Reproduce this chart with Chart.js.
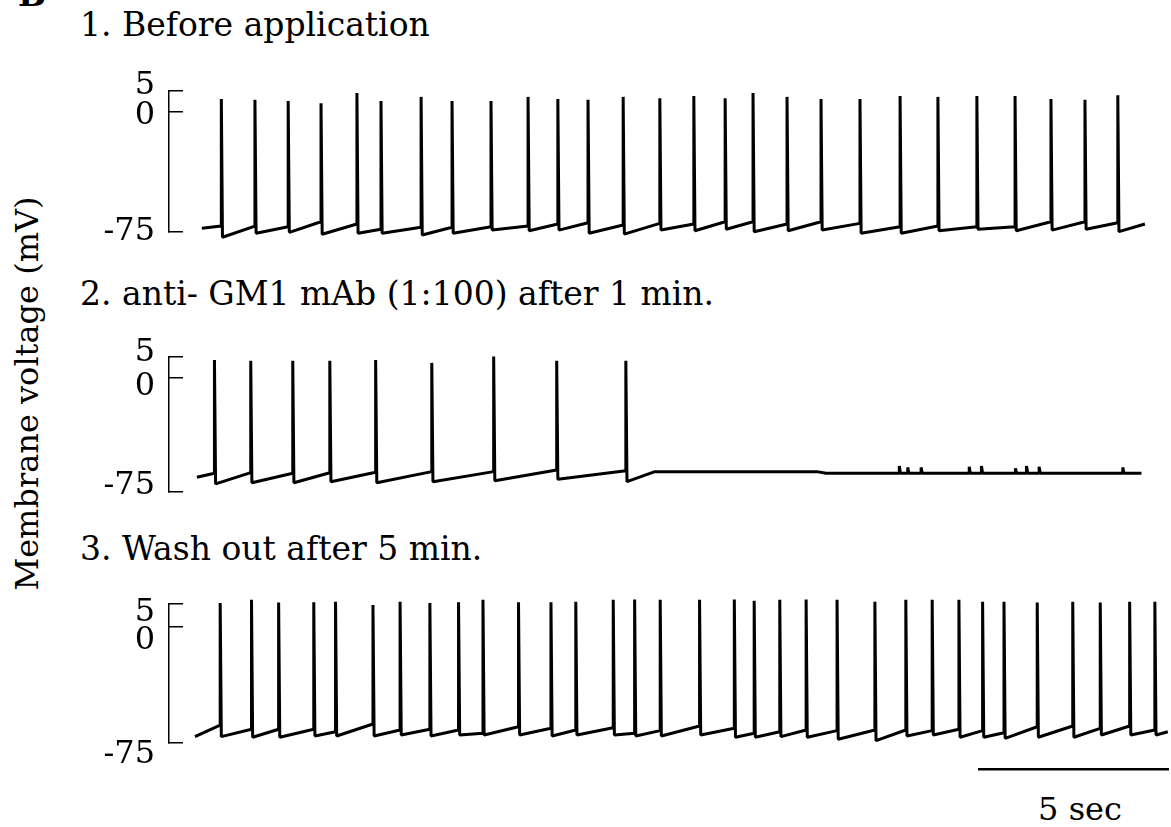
<!DOCTYPE html>
<html>
<head>
<meta charset="utf-8">
<script src="https://cdn.jsdelivr.net/npm/chart.js@4"></script>
<style>
  body { margin: 0; background: #fff; }
  #wrap { position: relative; width: 1171px; height: 827px; overflow: hidden; background: #fff; }
  #wrap canvas { position: absolute; left: 0; }
  .txt { position: absolute; font-family: "DejaVu Serif", serif; color: #000; white-space: nowrap; }
  .title { font-size: 33px; line-height: 33px; left: 80px; }
  #ylabel { font-size: 32px; line-height: 33px; width: 500px; height: 33px; text-align: center;
            left: -223px; top: 377px; transform: rotate(-90deg); }
</style>
</head>
<body>
<div id="wrap">
  <div class="txt" style="left:18px; top:-22px; font-size:33px; line-height:33px; font-weight:bold;">B</div>
  <div class="txt title" style="top:8px;">1. Before application</div>
  <div class="txt title" style="top:277px;">2. anti- GM1 mAb (1:100) after 1 min.</div>
  <div class="txt title" style="top:532px;">3. Wash out after 5 min.</div>
  <div class="txt" id="ylabel">Membrane voltage (mV)</div>
  <div class="txt" style="left:1000px; width:160px; text-align:center; top:793px; font-size:32px; line-height:33px;">5 sec</div>
  <canvas id="p1" width="1171" height="261" style="top:31px"></canvas>
  <canvas id="p2" width="1171" height="255" style="top:297px"></canvas>
  <canvas id="p3" width="1171" height="259" style="top:544px"></canvas>
</div>
<script>
// y tick values (mV) shown on each bracket, bottom to top
const tickValues = [-75, 0, 5];

// 1. before application: spike times (s), peaks, pre-spike level, AHP trough (mV)
const p1Start = [0.86, -72.7];
const p1Spikes = [1.37, 2.25, 3.12, 3.98, 4.92, 5.55, 6.60, 7.41, 8.43, 9.40, 10.18, 10.97, 11.89, 12.85,
  13.74, 14.56, 15.29, 16.18, 17.07, 18.09, 19.14, 20.13, 21.15, 22.15, 23.09, 23.98, 24.84];
const p1Peaks = [3.1, 2.9, 2.6, 2.1, 4.5, 2.6, 3.6, 2.6, 2.6, 3.6, 3.1, 2.9, 3.6, 3.3,
  3.8, 3.3, 4.5, 3.6, 3.1, 3.1, 3.8, 3.6, 3.8, 3.8, 3.1, 2.9, 4.0];
const p1Pre = [-71.3, -71.3, -71.7, -68.6, -70.0, -73.3, -72.0, -72.0, -71.7, -71.3, -70.0, -69.2, -70.6, -69.6,
  -70.0, -68.6, -68.6, -70.0, -68.6, -69.6, -71.7, -71.3, -71.7, -71.7, -68.6, -68.6, -69.2];
const p1Ahp = [-78.3, -75.8, -75.2, -76.4, -75.8, -75.8, -76.9, -75.8, -73.8, -74.2, -73.8, -75.8, -76.3, -73.8,
  -74.2, -73.3, -74.8, -74.2, -73.8, -75.8, -75.8, -74.2, -73.3, -74.2, -73.8, -73.3, -74.8];
const p1Tail = [[25.55, -70.0]];

// 2. anti-GM1 mAb: firing stops after the 9th spike, small events later on
const p2Start = [0.73, -65.3];
const p2Spikes = [1.19, 2.14, 3.24, 4.21, 5.41, 6.88, 8.50, 10.15, 11.96];
const p2Peaks = [4.3, 4.1, 4.1, 4.1, 4.3, 3.6, 5.1, 4.1, 4.1];
const p2Pre = [-62.7, -62.3, -62.7, -62.3, -62.0, -61.6, -61.6, -60.5, -61.0];
const p2Ahp = [-69.7, -68.9, -68.9, -68.2, -68.9, -68.2, -67.6, -66.6, -68.2];
const p2Tail = [[12.72, -61.6], [16.96, -61.6], [17.20, -62.7], [25.46, -62.7]];
const p2Events = [19.12, 19.34, 19.69, 20.95, 21.27, 22.16, 22.45, 22.78, 24.97];
const p2EventPeaks = [-57.9, -58.8, -58.8, -58.4, -57.9, -59.4, -57.9, -58.4, -58.8];

// 3. wash out after 5 min
const p3Start = [0.68, -70.9];
const p3Spikes = [1.34, 2.16, 2.87, 3.79, 4.36, 5.34, 6.05, 6.83, 7.58, 8.22, 9.15, 10.00, 10.65, 11.63,
  12.19, 12.86, 13.89, 14.80, 15.32, 15.99, 16.68, 17.49, 18.48, 19.29, 19.98, 20.68, 21.30, 21.86,
  22.73, 23.66, 24.38, 25.15, 25.81];
const p3Peaks = [5.2, 5.9, 5.3, 5.4, 5.5, 4.8, 5.5, 5.2, 5.4, 5.9, 5.4, 5.4, 5.5, 5.9,
  6.0, 5.9, 5.9, 6.0, 5.7, 5.9, 6.0, 5.9, 5.5, 5.9, 5.9, 5.9, 5.5, 5.5,
  5.3, 5.5, 5.3, 5.5, 5.5];
const p3Pre = [-63.4, -66.1, -66.1, -66.1, -67.7, -62.7, -66.6, -66.1, -66.6, -68.7, -64.5, -65.5, -66.6, -65.1,
  -68.7, -67.0, -64.0, -65.5, -68.7, -67.7, -66.6, -67.0, -66.6, -66.6, -67.0, -66.1, -67.0, -68.4,
  -64.5, -64.0, -65.5, -64.0, -66.6];
const p3Ahp = [-70.9, -71.3, -71.3, -70.5, -70.5, -70.5, -69.8, -70.5, -69.8, -69.8, -69.8, -70.5, -69.8, -69.8,
  -70.5, -70.5, -69.8, -71.3, -71.3, -70.9, -71.3, -72.6, -73.5, -70.5, -69.8, -71.3, -71.3, -72.0,
  -71.3, -71.3, -69.8, -69.8, -69.8];
const p3Tail = [[26.15, -67.7]];

// time scale bar (s)
const scaleBarSec = 5;

const SERIF = '"DejaVu Serif", serif';
const T_MAX = 26.18;       // seconds across the plot width
const SPIKE_W = 0.03;      // width of a spike's downstroke (s)
const PAD = 60;            // room above and below each plot for the tick labels

// y axis that is linear on both sides of 0 mV but with a stretched 0..5 segment
class VoltScale extends Chart.LinearScale {
  toDecimal(v) {
    const k = this.options.zeroAt;
    if (v <= 0) return k * (v - this.min) / (0 - this.min);
    return k + (1 - k) * v / this.max;
  }
  getPixelForValue(value) {
    return this.getPixelForDecimal(this.toDecimal(value));
  }
  getValueForPixel(pixel) {
    const d = this.getDecimalForPixel(pixel);
    const k = this.options.zeroAt;
    if (d <= k) return this.min + (d / k) * (0 - this.min);
    return (d - k) / (1 - k) * this.max;
  }
}
VoltScale.id = 'volt';
VoltScale.defaults = {};
Chart.register(VoltScale);

function buildTrace(start, spikes, peaks, pre, ahp, tail) {
  const pts = [{x: start[0], y: start[1]}];
  spikes.forEach((t, i) => {
    pts.push({x: t, y: pre[i]}, {x: t, y: peaks[i]}, {x: t + SPIKE_W, y: ahp[i]});
  });
  tail.forEach(([x, y]) => pts.push({x, y}));
  return pts;
}

// small events sit on the quiet trace: the level of the last point before each one
function addEvents(pts, times, peaks) {
  const bumps = [];
  times.forEach((t, i) => {
    let base = pts[0].y;
    pts.forEach(p => { if (p.x <= t) base = p.y; });
    bumps.push({x: t, y: base}, {x: t, y: peaks[i]}, {x: t + SPIKE_W, y: base});
  });
  const all = pts.map((p, i) => ({p, k: i})).concat(bumps.map((p, i) => ({p, k: pts.length + i})));
  all.sort((a, b) => (a.p.x - b.p.x) || (a.k - b.k));
  return all.map(e => e.p);
}

function makePanel(id, trace, opts) {
  const shift = v => (opts.labelShift[v] || 0);
  const datasets = [{
    data: trace,
    borderColor: '#000',
    borderWidth: 3,
    borderJoinStyle: 'bevel',
    pointRadius: 0,
    tension: 0,
    clip: false
  }];
  if (opts.extra) datasets.push(opts.extra);
  return new Chart(document.getElementById(id), {
    type: 'line',
    data: { datasets },
    options: {
      responsive: false,
      animation: false,
      devicePixelRatio: 1,
      layout: { padding: { top: PAD, bottom: PAD, left: 0, right: 2 } },
      plugins: { legend: { display: false }, tooltip: { enabled: false } },
      scales: {
        x: { type: 'linear', min: 0, max: T_MAX, display: false },
        y: {
          type: 'volt',
          min: -75,
          max: 5,
          zeroAt: opts.zeroAt,
          afterFit: s => { s.width = 169; },
          afterBuildTicks: s => { s.ticks = tickValues.map(v => ({value: v})); },
          border: { display: true, color: '#000', width: 1.5 },
          grid: { drawOnChartArea: false, drawTicks: true, tickLength: -14, color: '#000', lineWidth: 1.5 },
          ticks: {
            autoSkip: false,
            padding: 28,
            color: '#000',
            font: ctx => {
              const d = ctx.tick ? shift(ctx.tick.value) : 0;
              return { family: SERIF, size: 32, lineHeight: Math.max(2 * Math.abs(d), 1) + 'px' };
            },
            callback: v => {
              const d = shift(v);
              const s = String(v);
              return d < 0 ? [s, ''] : d > 0 ? ['', s] : s;
            }
          }
        }
      }
    }
  });
}

makePanel('p1', buildTrace(p1Start, p1Spikes, p1Peaks, p1Pre, p1Ahp, p1Tail), {
  zeroAt: 120 / 141, labelShift: {5: -5, 0: 4}
});

makePanel('p2', addEvents(buildTrace(p2Start, p2Spikes, p2Peaks, p2Pre, p2Ahp, p2Tail), p2Events, p2EventPeaks), {
  zeroAt: 114 / 135, labelShift: {5: -4, 0: 9, '-75': -6}
});

const barX = 21.18, barY = -92;
makePanel('p3', buildTrace(p3Start, p3Spikes, p3Peaks, p3Pre, p3Ahp, p3Tail), {
  zeroAt: 116 / 139, labelShift: {5: 9, 0: 14, '-75': 12},
  extra: {
    data: [{x: barX, y: barY}, {x: barX + scaleBarSec, y: barY}],
    borderColor: '#000',
    borderWidth: 2.5,
    pointRadius: 0,
    clip: false
  }
});
</script>
</body>
</html>
